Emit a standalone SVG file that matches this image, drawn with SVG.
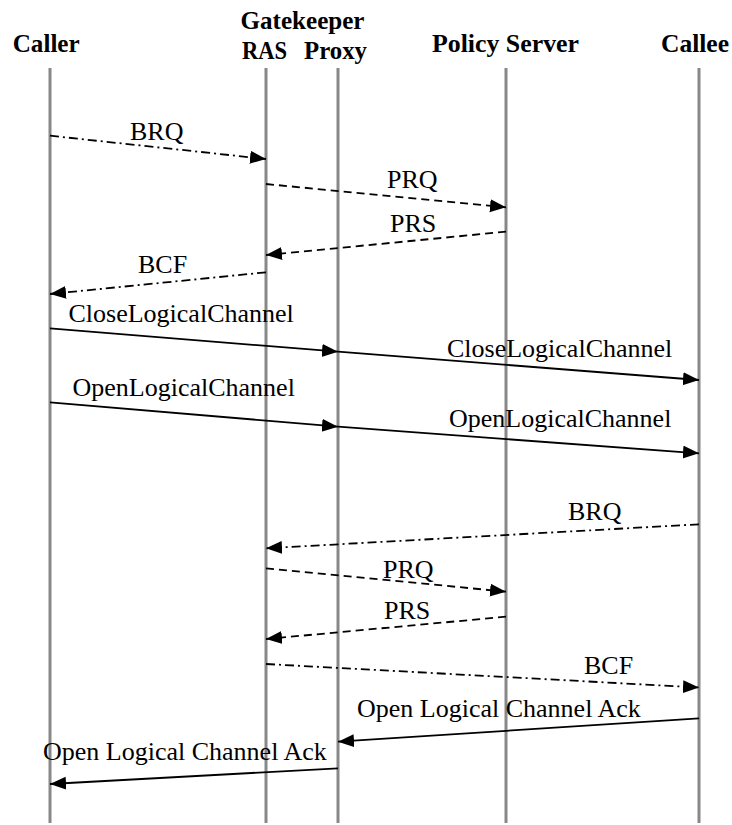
<svg xmlns="http://www.w3.org/2000/svg" width="732" height="825" viewBox="0 0 732 825">
<defs>
<style>
.hdr{font-family:"Liberation Serif","Times New Roman",serif;font-weight:bold;font-size:26px;fill:#000}
.lbl{font-family:"Liberation Serif","Times New Roman",serif;font-size:26px;fill:#000}
.life{stroke:#888;stroke-width:3;fill:none}
.msg{stroke:#000;stroke-width:1.8;fill:none;marker-end:url(#ah)}
.dash{stroke-dasharray:8 5}
.dashdot{stroke-dasharray:9 4 2 4}
</style>
<marker id="ah" markerUnits="userSpaceOnUse" markerWidth="17" markerHeight="14" refX="16" refY="6.5" orient="auto">
<path d="M0,0 L16,6.5 L0,13 z" fill="#000"/>
</marker>
</defs>
<rect width="732" height="825" fill="#fff"/>
<g id="caller">
<line class="life" x1="50" y1="68" x2="50" y2="823"/>
<text class="hdr" x="12.7" y="52.3" textLength="67" lengthAdjust="spacingAndGlyphs">Caller</text>
</g>
<g id="gatekeeper-label">
<text class="hdr" x="240.5" y="28.5" textLength="124" lengthAdjust="spacingAndGlyphs">Gatekeeper</text>
</g>
<g id="ras">
<line class="life" x1="266" y1="68" x2="266" y2="823"/>
<text class="hdr" x="242" y="58.5" textLength="45" lengthAdjust="spacingAndGlyphs">RAS</text>
</g>
<g id="proxy">
<line class="life" x1="338" y1="68" x2="338" y2="823"/>
<text class="hdr" x="304" y="58.5" textLength="63" lengthAdjust="spacingAndGlyphs">Proxy</text>
</g>
<g id="policy-server">
<line class="life" x1="506" y1="68" x2="506" y2="823"/>
<text class="hdr" x="432" y="52.3" textLength="147" lengthAdjust="spacingAndGlyphs">Policy Server</text>
</g>
<g id="callee">
<line class="life" x1="699" y1="68" x2="699" y2="823"/>
<text class="hdr" x="661" y="52.3" textLength="68" lengthAdjust="spacingAndGlyphs">Callee</text>
</g>
<g id="connectors">
<line class="msg dashdot" x1="50" y1="135.7" x2="266" y2="159"/>
<text class="lbl" x="130" y="140">BRQ</text>
<line class="msg dash" x1="266" y1="184" x2="506" y2="207.3"/>
<text class="lbl" x="387" y="187.5">PRQ</text>
<line class="msg dash" x1="506" y1="231.7" x2="266" y2="255"/>
<text class="lbl" x="390" y="232">PRS</text>
<line class="msg dashdot" x1="266" y1="272.3" x2="50" y2="294"/>
<text class="lbl" x="138" y="272.5">BCF</text>
<line class="msg" x1="50" y1="328.3" x2="338" y2="351.7"/>
<text class="lbl" x="68.5" y="322.3">CloseLogicalChannel</text>
<line class="msg" x1="338" y1="351.7" x2="699" y2="380"/>
<text class="lbl" x="447" y="356.7">CloseLogicalChannel</text>
<line class="msg" x1="50" y1="402.3" x2="338" y2="426.7"/>
<text class="lbl" x="72.5" y="396">OpenLogicalChannel</text>
<line class="msg" x1="338" y1="426.7" x2="699" y2="453.3"/>
<text class="lbl" x="449" y="426.7">OpenLogicalChannel</text>
<line class="msg dashdot" x1="699" y1="524.3" x2="266" y2="548.3"/>
<text class="lbl" x="568" y="520">BRQ</text>
<line class="msg dash" x1="266" y1="568.3" x2="506" y2="591.7"/>
<text class="lbl" x="383" y="578">PRQ</text>
<line class="msg dash" x1="506" y1="616.7" x2="266" y2="639"/>
<text class="lbl" x="384" y="619">PRS</text>
<line class="msg dashdot" x1="266" y1="664" x2="699" y2="687.5"/>
<text class="lbl" x="584" y="674">BCF</text>
<line class="msg" x1="699" y1="718.3" x2="338" y2="741.7"/>
<text class="lbl" x="357" y="717">Open Logical Channel Ack</text>
<line class="msg" x1="338" y1="768.3" x2="50" y2="784"/>
<text class="lbl" x="43" y="760">Open Logical Channel Ack</text>
</g>
</svg>
